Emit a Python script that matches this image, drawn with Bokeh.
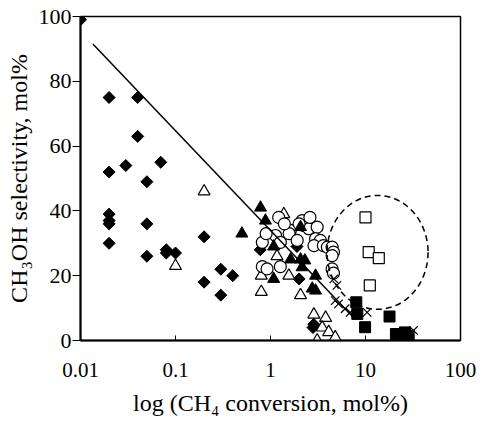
import math
from bokeh.plotting import figure
from bokeh.models import FixedTicker, CustomJSTickFormatter, Range1d
from bokeh.embed import file_html
from bokeh.resources import INLINE

# ---- data ----
diamond_x = [0.01, 0.02, 0.04, 0.04, 0.02, 0.03, 0.07, 0.05, 0.02, 0.02, 0.02, 0.02,
             0.05, 0.05, 0.08, 0.08, 0.1, 0.2, 0.2, 0.3, 0.3, 0.4, 0.78, 1.9, 2.0, 2.85, 2.8]
diamond_y = [99, 75, 75, 63, 52, 54, 55, 49, 39, 37, 36, 30,
             36, 26, 28, 27, 27, 32, 18, 22, 14, 20, 28, 29, 19, 5, 4]

open_tri_x = [0.2, 0.1, 1.38, 1.17, 0.8, 0.8, 1.56, 2.07, 2.86, 3.8, 3.5, 4.1, 3.1, 4.8]
open_tri_y = [46, 23, 39, 26, 20, 15, 20, 14, 8, 7, 4, 2.6, 0, 1]

circle_x = [1.22, 2.15, 2.24, 2.53, 3.1, 1.62, 1.57, 1.13, 0.82, 1.27, 1.91, 2.98, 3.35,
            2.87, 3.6, 3.97, 4.45, 4.6, 4.45, 0.82, 0.92, 1.27, 4.45, 4.6, 0.9, 2.6, 2.0, 1.4]
circle_y = [38, 37, 35.5, 34.5, 35, 34, 33, 32.4, 30.3, 30.3, 30.9, 31.4, 30.9,
            29.3, 29.3, 28.8, 28.8, 27.3, 26.2, 22.8, 22.1, 22.8, 22.1, 20.8, 33, 38, 36, 36]

filled_tri_x = [0.5, 0.785, 0.885, 2.07, 1.08, 1.63, 2.07, 2.3, 2.15, 1.08, 2.98, 2.75, 2.98]
filled_tri_y = [33, 41, 37, 35, 29, 25, 25, 24.7, 22.6, 19, 20, 16, 15.4]

cross_x = [4.64, 5.0, 4.8, 5.2, 6.1, 6.9, 10.4, 32]
cross_y = [19, 17, 12.3, 11.3, 9.8, 8.7, 8.7, 3.1]

filled_sq_x = [8.0, 8.2, 9.9, 17.9, 20.9, 24.2, 28.5, 26]
filled_sq_y = [11.8, 8.2, 4.1, 7.4, 2, 1.5, 1.5, 2.5]

open_sq_x = [10.0, 10.8, 13.8, 11.1]
open_sq_y = [38, 27.3, 25.4, 17]

trend_x = [0.0135, 7.3]
trend_y = [91.5, 7.4]

ellipse_x = [13.4]
ellipse_y = [27.2]

x_ticks = [0.01, 0.1, 1, 10, 100]
y_ticks = [0, 20, 40, 60, 80, 100]

FONT = "Liberation Serif"

p = figure(width=482, height=433, x_axis_type="log",
           x_range=Range1d(0.01, 100), y_range=Range1d(0, 100),
           output_backend="svg", toolbar_location=None)
p.min_border_left = 80
p.min_border_right = 22
p.min_border_top = 16
p.min_border_bottom = 93
p.background_fill_color = "white"
p.border_fill_color = "white"
p.outline_line_color = "black"
p.outline_line_width = 1.5
p.xgrid.visible = False
p.ygrid.visible = False

# markers
p.scatter(diamond_x, diamond_y, marker="square", angle=math.pi / 4, size=8.5,
          fill_color="black", line_color="black")
p.scatter(open_tri_x, open_tri_y, marker="triangle", size=12,
          fill_color="white", line_color="black", line_width=1.2)
p.scatter(circle_x, circle_y, marker="circle", size=12,
          fill_color="white", line_color="black", line_width=1.2)
p.scatter(filled_tri_x, filled_tri_y, marker="triangle", size=12,
          fill_color="black", line_color="black")
p.scatter(cross_x, cross_y, marker="x", size=12, line_color="black", line_width=1.2)
p.scatter(filled_sq_x, filled_sq_y, marker="square", size=11,
          fill_color="black", line_color="black")
p.scatter(open_sq_x, open_sq_y, marker="square", size=11,
          fill_color="white", line_color="black", line_width=1.2)

p.line(trend_x, trend_y, line_color="black", line_width=1.5)
p.ellipse(x=ellipse_x, y=ellipse_y, width=101, height=114,
          width_units="screen", height_units="screen",
          fill_color=None, line_color="black", line_width=1.5, line_dash="6 4")

# axes
for ax in (p.xaxis[0], p.yaxis[0]):
    ax.axis_line_width = 2
    ax.axis_line_color = "black"
    ax.major_tick_line_color = "black"
    ax.major_tick_line_width = 1
    ax.minor_tick_line_color = None
    ax.major_label_text_font = FONT
    ax.major_label_text_color = "black"
    ax.axis_label_text_font = FONT
    ax.axis_label_text_font_style = "normal"
    ax.axis_label_text_color = "black"

p.xaxis.ticker = FixedTicker(ticks=x_ticks)
p.xaxis.formatter = CustomJSTickFormatter(code="return tick.toString();")
p.xaxis.major_tick_in = 5
p.xaxis.major_tick_out = 0
p.xaxis.major_label_text_font_size = "21px"
p.xaxis.major_label_standoff = 22
p.xaxis.axis_label = "log (CH\u2084 conversion, mol%)"
p.xaxis.axis_label_text_font_size = "24px"
p.xaxis.axis_label_standoff = 10

p.yaxis.ticker = FixedTicker(ticks=y_ticks)
p.yaxis.major_tick_in = 0
p.yaxis.major_tick_out = 8
p.yaxis.major_label_text_font_size = "22px"
p.yaxis.major_label_standoff = 1
p.yaxis.axis_label = "CH\u2083OH selectivity, mol%"
p.yaxis.axis_label_text_font_size = "24px"
p.yaxis.axis_label_standoff = 4

open("out.html", "w").write(file_html(p, INLINE))
